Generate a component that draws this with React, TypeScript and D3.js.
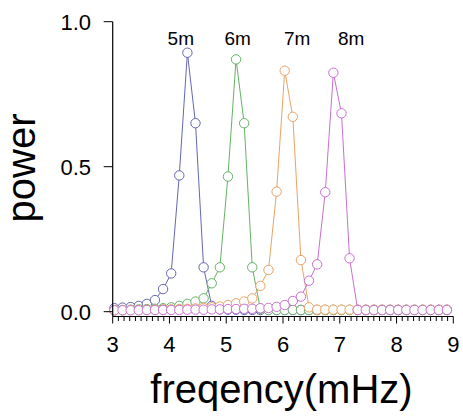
import React from "react";
import * as d3 from "d3";

const W = 463;
const H = 416;

const seriesNames = ["5m", "6m", "7m", "8m"];
const seriesColors = ["#6666b2", "#66b266", "#eaa266", "#c870d0"];
const labelX = [4.2, 5.2, 6.25, 7.2];

// frequency grid (mHz)
const freqStart = 3.03;
const freqStep = 1 / 7;
const freqCount = 42;

const power5m = [0.012, 0.014, 0.016, 0.02, 0.027, 0.04, 0.078, 0.132, 0.47, 0.893, 0.65, 0.153, 0.02, 0.008, 0.007, 0.007, 0.006, 0.006, 0.006, 0.006, 0.006, 0.006, 0.006, 0.006, 0.006, 0.006, 0.006, 0.006, 0.006, 0.006, 0.006, 0.006, 0.006, 0.006, 0.006, 0.006, 0.006, 0.006, 0.006, 0.006, 0.006, 0.006];
const power6m = [0.005, 0.006, 0.007, 0.008, 0.009, 0.01, 0.012, 0.015, 0.02, 0.027, 0.035, 0.046, 0.098, 0.153, 0.466, 0.87, 0.65, 0.153, 0.01, 0.006, 0.006, 0.006, 0.006, 0.006, 0.006, 0.006, 0.006, 0.006, 0.006, 0.006, 0.006, 0.006, 0.006, 0.006, 0.006, 0.006, 0.006, 0.006, 0.006, 0.006, 0.006, 0.006];
const power7m = [0.005, 0.005, 0.006, 0.006, 0.007, 0.007, 0.008, 0.008, 0.009, 0.01, 0.011, 0.013, 0.015, 0.018, 0.023, 0.029, 0.035, 0.046, 0.089, 0.144, 0.414, 0.831, 0.672, 0.178, 0.015, 0.007, 0.007, 0.007, 0.007, 0.007, 0.007, 0.007, 0.007, 0.007, 0.007, 0.007, 0.007, 0.007, 0.007, 0.007, 0.007, 0.007];
const power8m = [0.005, 0.005, 0.005, 0.005, 0.006, 0.006, 0.006, 0.006, 0.006, 0.007, 0.007, 0.007, 0.008, 0.008, 0.009, 0.009, 0.01, 0.01, 0.012, 0.013, 0.017, 0.023, 0.037, 0.052, 0.107, 0.163, 0.412, 0.824, 0.684, 0.184, 0.006, 0.006, 0.006, 0.006, 0.006, 0.006, 0.006, 0.006, 0.006, 0.006, 0.006, 0.006];

const xTicks = [3, 4, 5, 6, 7, 8, 9];
const yTicks = [0, 0.5, 1];

const FONT = "'Liberation Sans', Arial, Helvetica, sans-serif";

export default function App() {
  const x = d3.scaleLinear().domain([3, 9]).range([112.7, 453.3]);
  const y = d3.scaleLinear().domain([0, 1]).range([311.7, 21.7]);
  const axisY = 316.5;

  const freqs = d3.range(freqCount).map((i) => freqStart + i * freqStep);
  const allSeries = [power5m, power6m, power7m, power8m];
  const line = d3
    .line<[number, number]>()
    .x((d) => x(d[0]))
    .y((d) => y(d[1]));

  const minorTicks = d3.range(30, 91).map((v) => v / 10).filter((v) => Math.abs(v - Math.round(v)) > 1e-6);

  return (
    <svg width={W} height={H} style={{ position: "absolute", left: 0, top: 0, background: "#fff" }}>
      {/* series */}
      {allSeries.map((vals, si) => {
        const pts: [number, number][] = vals.map((v, i) => [freqs[i], v]);
        return (
          <g key={si}>
            <path d={line(pts) || ""} fill="none" stroke={seriesColors[si]} strokeWidth={1} />
            {pts.map((p, i) => (
              <circle key={i} cx={x(p[0])} cy={y(p[1])} r={4.7} fill="#fff" stroke={seriesColors[si]} strokeWidth={1} />
            ))}
          </g>
        );
      })}

      {/* y axis */}
      <line x1={x(3)} x2={x(3)} y1={y(1)} y2={axisY} stroke="#000" strokeWidth={1.2} />
      {yTicks.map((t) => (
        <g key={t}>
          <line x1={x(3) - 9} x2={x(3)} y1={y(t)} y2={y(t)} stroke="#000" strokeWidth={1} />
          <text x={91} y={y(t)} dy="0.36em" textAnchor="end" fontFamily={FONT} fontSize={22} fill="#000">
            {d3.format(".1f")(t)}
          </text>
        </g>
      ))}

      {/* x axis */}
      <line x1={x(3)} x2={x(9)} y1={axisY} y2={axisY} stroke="#000" strokeWidth={1.2} />
      {minorTicks.map((t) => (
        <line key={t} x1={x(t)} x2={x(t)} y1={axisY} y2={axisY + 4.5} stroke="#000" strokeWidth={1} />
      ))}
      {xTicks.map((t) => (
        <g key={t}>
          <line x1={x(t)} x2={x(t)} y1={axisY} y2={axisY + 7} stroke="#000" strokeWidth={1} />
          <text x={x(t)} y={352} textAnchor="middle" fontFamily={FONT} fontSize={22} fill="#000">
            {t}
          </text>
        </g>
      ))}

      {/* series labels */}
      {seriesNames.map((n, i) => (
        <text key={n} x={x(labelX[i])} y={45} textAnchor="middle" fontFamily={FONT} fontSize={19} fill="#000">
          {n}
        </text>
      ))}

      {/* axis titles */}
      <text x={281.5} y={403} textAnchor="middle" fontFamily={FONT} fontSize={40} fill="#000">
        freqency(mHz)
      </text>
      <text
        transform={`translate(35,168) rotate(-90)`}
        textAnchor="middle"
        fontFamily={FONT}
        fontSize={40}
        fill="#000"
      >
        power
      </text>
    </svg>
  );
}
